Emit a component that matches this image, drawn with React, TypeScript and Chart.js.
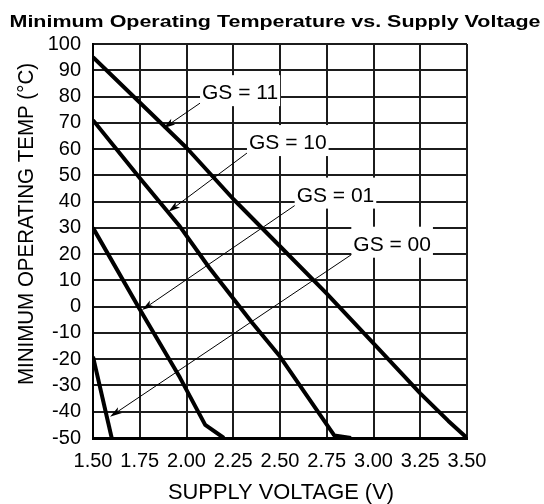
import { useEffect, useRef } from 'react';
import { Chart, registerables } from 'chart.js';

Chart.register(...registerables);

// ---- Data ----
const X_TICKS = [1.5, 1.75, 2.0, 2.25, 2.5, 2.75, 3.0, 3.25, 3.5];
const Y_TICKS = [-50, -40, -30, -20, -10, 0, 10, 20, 30, 40, 50, 60, 70, 80, 90, 100];

const GS11_V = [1.5, 2.0, 2.25, 2.5, 2.75, 3.0, 3.25, 3.4, 3.5];
const GS11_T = [95, 60.5, 41, 23, 5, -14, -33, -43.5, -50];

const GS10_V = [1.5, 1.75, 1.965, 2.12, 2.35, 2.5, 2.79, 2.88];
const GS10_T = [71, 49, 30.5, 15, -6, -19, -49, -50];

const GS01_V = [1.5, 1.75, 1.965, 2.1, 2.2];
const GS01_T = [30, -1, -27, -45, -50];

const GS00_V = [1.5, 1.6];
const GS00_T = [-19, -50];

// ---- Annotation labels (data coordinates) ----
const LABELS = ['GS = 11', 'GS = 10', 'GS = 01', 'GS = 00'];
const LABEL_V = [2.083, 2.334, 2.589, 2.892];
const LABEL_T = [79, 60, 40, 21.3];
const TIP_V = [1.876, 1.903, 1.762, 1.591];
const TIP_T = [67.9, 36.1, -1.3, -41.9];

const CHART_TITLE = 'Minimum Operating Temperature vs. Supply Voltage';
const X_TITLE = 'SUPPLY VOLTAGE (V)';
const Y_TITLE = 'MINIMUM OPERATING TEMP (\u00B0C)';

const FONT = '"Liberation Sans", Arial, Helvetica, sans-serif';

const textPlugin = {
  id: 'textPlugin',
  afterDraw(chart: any) {
    const ctx = chart.ctx as CanvasRenderingContext2D;
    const area = chart.chartArea;
    ctx.save();
    ctx.fillStyle = '#000';
    ctx.textBaseline = 'alphabetic';

    // Chart title
    ctx.font = `bold 17px ${FONT}`;
    ctx.textAlign = 'left';
    let w = ctx.measureText(CHART_TITLE).width;
    ctx.save();
    ctx.translate(9.5, 27);
    ctx.scale(531 / w, 1);
    ctx.fillText(CHART_TITLE, 0, 0);
    ctx.restore();

    // X axis title
    ctx.font = `22px ${FONT}`;
    ctx.textAlign = 'center';
    w = ctx.measureText(X_TITLE).width;
    ctx.save();
    ctx.translate((area.left + area.right) / 2 + 1, chart.height - 5);
    ctx.scale(226 / w, 1);
    ctx.fillText(X_TITLE, 0, 0);
    ctx.restore();

    // Y axis title
    w = ctx.measureText(Y_TITLE).width;
    ctx.save();
    ctx.translate(32.5, 224);
    ctx.rotate(-Math.PI / 2);
    ctx.scale(322 / w, 1);
    ctx.fillText(Y_TITLE, 0, 0);
    ctx.restore();

    ctx.restore();
  },
};

const labelPlugin = {
  id: 'labelPlugin',
  afterDatasetsDraw(chart: any) {
    const ctx = chart.ctx as CanvasRenderingContext2D;
    const xs = chart.scales.x;
    const ys = chart.scales.y;
    ctx.save();
    ctx.font = `21px ${FONT}`;
    ctx.textAlign = 'left';
    ctx.textBaseline = 'alphabetic';
    for (let i = 0; i < LABELS.length; i++) {
      const lx = xs.getPixelForValue(LABEL_V[i]);
      const by = ys.getPixelForValue(LABEL_T[i]);
      const w = ctx.measureText(LABELS[i]).width;
      ctx.fillStyle = '#fff';
      ctx.fillRect(lx - 2, by - 24, w + 4, 31);
      ctx.fillStyle = '#000';
      ctx.fillText(LABELS[i], lx, by);

      const sx = lx - 2;
      const sy = by + 4;
      const tx = xs.getPixelForValue(TIP_V[i]);
      const ty = ys.getPixelForValue(TIP_T[i]);
      const ang = Math.atan2(ty - sy, tx - sx);
      const c = Math.cos(ang);
      const s = Math.sin(ang);
      const L = 12, H = 3.5, N = 9;
      ctx.strokeStyle = '#000';
      ctx.lineWidth = 1;
      ctx.beginPath();
      ctx.moveTo(sx, sy);
      ctx.lineTo(tx - N * c, ty - N * s);
      ctx.stroke();
      ctx.beginPath();
      ctx.moveTo(tx, ty);
      ctx.lineTo(tx - L * c + H * s, ty - L * s - H * c);
      ctx.lineTo(tx - N * c, ty - N * s);
      ctx.lineTo(tx - L * c - H * s, ty - L * s + H * c);
      ctx.closePath();
      ctx.fill();
    }
    ctx.restore();
  },
};

function series(v: number[], t: number[]) {
  return v.map((x, i) => ({ x, y: t[i] }));
}

export default function App() {
  const ref = useRef<HTMLCanvasElement | null>(null);

  useEffect(() => {
    if (!ref.current) return;
    const lineStyle = {
      borderColor: '#000',
      borderWidth: 4,
      pointRadius: 0,
      fill: false,
      tension: 0,
      borderJoinStyle: 'round' as const,
    };
    const chart = new Chart(ref.current, {
      type: 'line',
      data: {
        datasets: [
          { label: 'GS = 11', data: series(GS11_V, GS11_T), ...lineStyle },
          { label: 'GS = 10', data: series(GS10_V, GS10_T), ...lineStyle },
          { label: 'GS = 01', data: series(GS01_V, GS01_T), ...lineStyle },
          { label: 'GS = 00', data: series(GS00_V, GS00_T), ...lineStyle },
        ],
      },
      options: {
        animation: false,
        responsive: false,
        layout: { padding: { top: 44, right: 77, left: 0, bottom: 0 } },
        plugins: {
          legend: { display: false },
          tooltip: { enabled: false },
          title: { display: false },
        },
        scales: {
          x: {
            type: 'linear',
            min: 1.5,
            max: 3.5,
            afterBuildTicks: (s: any) => {
              s.ticks = X_TICKS.map((v) => ({ value: v }));
            },
            afterFit: (s: any) => {
              s.height = 66;
            },
            ticks: {
              callback: (v: any) => Number(v).toFixed(2),
              font: { family: FONT, size: 20 },
              color: '#000',
              padding: 11,
              maxRotation: 0,
              autoSkip: false,
            },
            grid: { color: '#1c1c1c', lineWidth: 2, drawTicks: false },
            border: { display: true, color: '#000', width: 3 },
          },
          y: {
            type: 'linear',
            min: -50,
            max: 100,
            afterBuildTicks: (s: any) => {
              s.ticks = Y_TICKS.map((v) => ({ value: v }));
            },
            afterFit: (s: any) => {
              s.width = 93;
            },
            ticks: {
              callback: (v: any) => String(v),
              font: { family: FONT, size: 20 },
              color: '#000',
              padding: 12,
              autoSkip: false,
            },
            grid: { color: '#1c1c1c', lineWidth: 2, drawTicks: false },
            border: { display: true, color: '#000', width: 2 },
          },
        },
      },
      plugins: [labelPlugin, textPlugin],
    } as any);
    return () => chart.destroy();
  }, []);

  return (
    <div style={{ position: 'absolute', left: 0, top: 0, width: 544, height: 504, background: '#fff' }}>
      <canvas ref={ref} width={544} height={504} style={{ display: 'block' }} />
    </div>
  );
}
